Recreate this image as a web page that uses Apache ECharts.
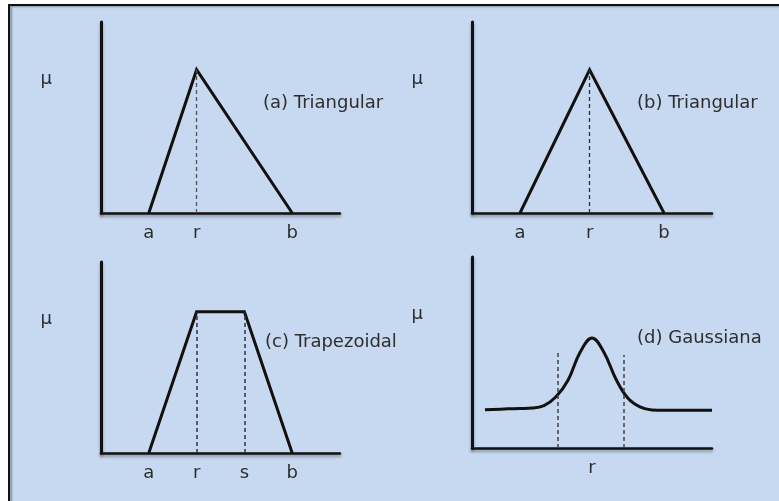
<!DOCTYPE html>
<html>
<head>
<meta charset="utf-8">
<script src="https://cdn.jsdelivr.net/npm/echarts@6/dist/echarts.min.js"></script>
<style>
  html, body { margin: 0; padding: 0; background: #ffffff; }
  #chart { width: 779px; height: 501px; }
</style>
</head>
<body>
<div id="chart"></div>
<script>
// Membership function shapes: x in [0, 10], membership degree μ in [0, 1]
const triAX = [2, 4, 8];
const triAY = [0, 0.75, 0];
const triATicks = ['a', 'r', 'b'];

const triBX = [2, 4.9, 8];
const triBY = [0, 0.75, 0];
const triBTicks = ['a', 'r', 'b'];

const trapX = [2, 4, 6, 8];
const trapY = [0, 0.74, 0.74, 0];
const trapTicks = ['a', 'r', 's', 'b'];

const gaussX = [0.54, 1.5, 2.0, 2.5, 3.0, 3.5, 4.0, 4.5, 5.0, 5.5, 6.0, 6.5, 7.0, 7.5, 8.0, 9.0, 10];
const gaussY = [0.20, 0.205, 0.207, 0.209, 0.222, 0.268, 0.355, 0.50, 0.576, 0.50, 0.36, 0.26, 0.215, 0.199, 0.197, 0.197, 0.197];
const gaussCenter = 5.0;
const gaussBounds = [3.58, 6.33];
const gaussBoundTops = [0.503, 0.487];
const gaussTicks = ['r'];

const muLevel = 0.7;
const panelTitles = ['(a) Triangular', '(b) Triangular', '(c) Trapezoidal', '(d) Gaussiana'];

const ink = '#111111';
const textColor = '#2e2e2e';
const font = 'DejaVu Sans';
const fontSize = 18;

const grids = [
  { left: 101, top: 22, width: 239, height: 191 },
  { left: 472, top: 22, width: 240, height: 191 },
  { left: 101, top: 262, width: 239, height: 191 },
  { left: 472, top: 257, width: 240, height: 191 }
];

const axisShadow = { shadowColor: 'rgba(0,0,0,0.35)', shadowBlur: 3, shadowOffsetY: 2 };

function xAxisFor(i, ticks, names) {
  return {
    type: 'value', gridIndex: i, min: 0, max: 10,
    axisLine: { show: true, onZero: false, lineStyle: Object.assign({ color: ink, width: 2.5 }, axisShadow) },
    axisTick: { show: false },
    splitLine: { show: false },
    axisLabel: {
      customValues: ticks,
      formatter: v => names[ticks.indexOf(v)] || '',
      color: textColor, fontFamily: font, fontSize: fontSize, margin: 11
    }
  };
}

function yAxisFor(i) {
  return {
    type: 'value', gridIndex: i, min: 0, max: 1,
    axisLine: { show: true, lineStyle: Object.assign({ color: ink, width: 3 }, axisShadow) },
    axisTick: { show: false },
    splitLine: { show: false },
    axisLabel: {
      customValues: [muLevel],
      formatter: () => 'μ',
      color: textColor, fontFamily: font, fontSize: fontSize, margin: 49
    }
  };
}

function zip(xs, ys) { return xs.map((x, k) => [x, ys[k]]); }

function dropLines(pairs, color, width) {
  return {
    silent: true, symbol: 'none', label: { show: false },
    lineStyle: { type: [4, 3], color: color, width: width },
    data: pairs.map(p => [{ coord: [p[0], 0] }, { coord: [p[0], p[1]] }])
  };
}

const lineBase = { type: 'line', symbol: 'none', animation: false,
  lineStyle: { color: ink, width: 3, join: 'miter' } };

const series = [
  Object.assign({}, lineBase, { xAxisIndex: 0, yAxisIndex: 0, data: zip(triAX, triAY),
    markLine: dropLines([[triAX[1], triAY[1]]], '#555', 1.3) }),
  Object.assign({}, lineBase, { xAxisIndex: 1, yAxisIndex: 1, data: zip(triBX, triBY),
    markLine: dropLines([[triBX[1], triBY[1]]], '#333', 1.3) }),
  Object.assign({}, lineBase, { xAxisIndex: 2, yAxisIndex: 2, data: zip(trapX, trapY),
    markLine: dropLines([[trapX[1], trapY[1]], [trapX[2], trapY[2]]], '#333', 1.5) }),
  Object.assign({}, lineBase, { xAxisIndex: 3, yAxisIndex: 3, smooth: 0.4,
    data: zip(gaussX, gaussY),
    markLine: dropLines([[gaussBounds[0], gaussBoundTops[0]], [gaussBounds[1], gaussBoundTops[1]]], '#444', 1.5) })
];

const titlePos = [[263, 103], [637, 103], [265, 342], [637, 338]];

const option = {
  animation: false,
  backgroundColor: '#ffffff',
  graphic: [
    { type: 'rect', z: -10, silent: true,
      shape: { x: 9, y: 5, width: 790, height: 520 },
      style: { fill: '#c6d9f0', stroke: '#111', lineWidth: 2,
        shadowColor: 'rgba(0,0,0,0.35)', shadowBlur: 2, shadowOffsetX: 2, shadowOffsetY: 1 } }
  ].concat(panelTitles.map((t, k) => ({
    type: 'text', x: titlePos[k][0], y: titlePos[k][1],
    style: { text: t, fill: textColor, font: fontSize + 'px "' + font + '"', verticalAlign: 'middle' }
  }))),
  grid: grids,
  xAxis: [
    xAxisFor(0, triAX, triATicks),
    xAxisFor(1, triBX, triBTicks),
    xAxisFor(2, trapX, trapTicks),
    xAxisFor(3, [gaussCenter], gaussTicks)
  ],
  yAxis: [yAxisFor(0), yAxisFor(1), yAxisFor(2), yAxisFor(3)],
  series: series
};

const chart = echarts.init(document.getElementById('chart'), null, { renderer: 'canvas' });
chart.setOption(option);
</script>
</body>
</html>
